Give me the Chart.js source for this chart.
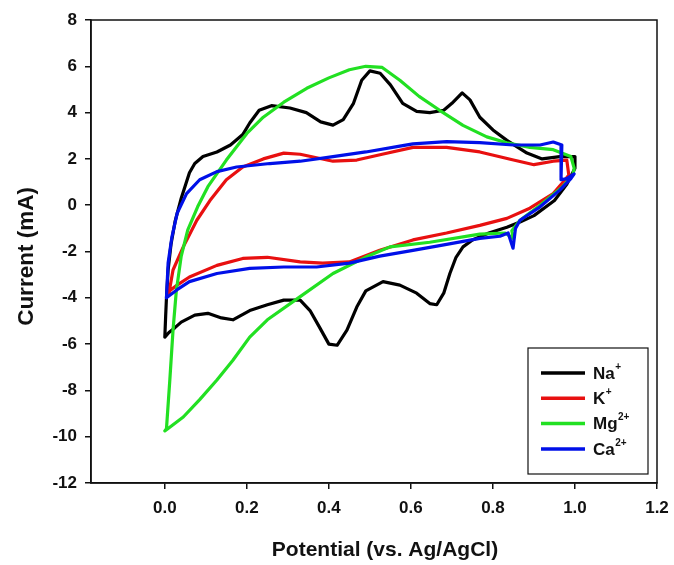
<!DOCTYPE html>
<html>
<head>
<meta charset="utf-8">
<script src="https://cdn.jsdelivr.net/npm/chart.js@4/dist/chart.umd.min.js"></script>
<style>
  html, body { margin: 0; padding: 0; background: #fff; }
  canvas { display: block; }
</style>
</head>
<body>
<canvas id="cv" width="674" height="565"></canvas>
<script>
// CV loops, potential (V vs Ag/AgCl) and current (mA)
const naX = [0.0, 0.002, 0.004, 0.008, 0.015, 0.025, 0.04, 0.06, 0.073, 0.093, 0.127, 0.16, 0.19, 0.207, 0.23, 0.26, 0.305, 0.345, 0.38, 0.41, 0.435, 0.46, 0.48, 0.5, 0.525, 0.55, 0.58, 0.614, 0.646, 0.68, 0.7, 0.725, 0.744, 0.768, 0.8, 0.834, 0.883, 0.92, 0.963, 1.0, 1.0, 0.98, 0.95, 0.9, 0.866, 0.834, 0.79, 0.75, 0.727, 0.71, 0.695, 0.68, 0.663, 0.646, 0.614, 0.573, 0.532, 0.49, 0.468, 0.444, 0.42, 0.4, 0.378, 0.354, 0.33, 0.29, 0.25, 0.207, 0.166, 0.138, 0.105, 0.073, 0.04, 0.024, 0.01, 0.0];
const naY = [-5.7, -4.8, -4.0, -2.8, -1.7, -0.7, 0.3, 1.4, 1.8, 2.1, 2.3, 2.6, 3.05, 3.55, 4.1, 4.3, 4.2, 4.0, 3.6, 3.46, 3.7, 4.4, 5.4, 5.8, 5.7, 5.2, 4.4, 4.05, 4.0, 4.1, 4.4, 4.85, 4.55, 3.8, 3.25, 2.8, 2.25, 2.0, 2.1, 2.1, 1.6, 0.9, 0.2, -0.45, -0.73, -0.95, -1.2, -1.5, -1.8, -2.25, -2.95, -3.8, -4.3, -4.25, -3.8, -3.45, -3.3, -3.7, -4.4, -5.4, -6.05, -6.0, -5.3, -4.55, -4.1, -4.1, -4.3, -4.55, -4.95, -4.87, -4.67, -4.75, -5.05, -5.3, -5.5, -5.7];

const kX = [0.01, 0.02, 0.045, 0.078, 0.11, 0.15, 0.19, 0.24, 0.29, 0.33, 0.37, 0.41, 0.468, 0.53, 0.605, 0.687, 0.768, 0.85, 0.9, 0.947, 0.98, 0.985, 0.976, 0.947, 0.89, 0.834, 0.768, 0.687, 0.605, 0.524, 0.45, 0.385, 0.33, 0.25, 0.19, 0.127, 0.06, 0.03, 0.012, 0.01];
const kY = [-3.8, -2.8, -1.8, -0.65, 0.2, 1.1, 1.65, 2.0, 2.25, 2.2, 2.05, 1.9, 1.95, 2.2, 2.5, 2.5, 2.3, 1.95, 1.75, 1.9, 1.95, 1.3, 1.1, 0.5, -0.13, -0.57, -0.87, -1.2, -1.5, -1.95, -2.45, -2.5, -2.45, -2.25, -2.3, -2.6, -3.1, -3.45, -3.7, -3.8];

const mgX = [0.0, 0.004, 0.012, 0.02, 0.028, 0.04, 0.056, 0.08, 0.105, 0.15, 0.2, 0.24, 0.29, 0.346, 0.4, 0.45, 0.49, 0.53, 0.573, 0.62, 0.67, 0.727, 0.785, 0.834, 0.89, 0.947, 0.99, 0.998, 0.995, 0.97, 0.915, 0.866, 0.846, 0.85, 0.83, 0.768, 0.646, 0.549, 0.49, 0.41, 0.33, 0.25, 0.207, 0.166, 0.127, 0.085, 0.045, 0.004, 0.0];
const mgY = [-9.75, -9.65, -7.6, -5.4, -3.7, -2.2, -1.07, -0.07, 0.8, 1.95, 3.1, 3.8, 4.45, 5.05, 5.5, 5.85, 6.0, 5.95, 5.4, 4.7, 4.1, 3.45, 2.95, 2.7, 2.5, 2.4, 2.1, 1.6, 1.3, 0.8, 0.0, -0.65, -1.1, -1.45, -1.2, -1.25, -1.6, -1.8, -2.24, -2.95, -3.95, -4.95, -5.7, -6.7, -7.55, -8.4, -9.15, -9.7, -9.75];

const caX = [0.004, 0.008, 0.017, 0.03, 0.053, 0.085, 0.127, 0.175, 0.256, 0.33, 0.41, 0.49, 0.573, 0.605, 0.687, 0.768, 0.85, 0.915, 0.947, 0.968, 0.966, 0.98, 0.998, 0.99, 0.963, 0.915, 0.866, 0.855, 0.849, 0.837, 0.817, 0.768, 0.687, 0.605, 0.524, 0.45, 0.37, 0.29, 0.207, 0.127, 0.06, 0.03, 0.004];
const caY = [-4.0, -2.5, -1.4, -0.35, 0.5, 1.1, 1.45, 1.65, 1.8, 1.9, 2.1, 2.3, 2.55, 2.65, 2.75, 2.7, 2.6, 2.6, 2.73, 2.6, 1.1, 1.15, 1.35, 1.15, 0.65, -0.07, -0.65, -1.0, -1.86, -1.2, -1.34, -1.43, -1.69, -1.95, -2.2, -2.5, -2.67, -2.67, -2.73, -2.95, -3.3, -3.65, -4.0];

const xTicks = [0.0, 0.2, 0.4, 0.6, 0.8, 1.0, 1.2];
const yTicks = [-12, -10, -8, -6, -4, -2, 0, 2, 4, 6, 8];

const seriesNames = [['Na', '+'], ['K', '+'], ['Mg', '2+'], ['Ca', '2+']];
const seriesColors = ['#000000', '#e81010', '#22e022', '#0010e8'];
const xTitle = 'Potential (vs. Ag/AgCl)';
const yTitle = 'Current (mA)';

function pts(xs, ys) {
  return xs.map((x, i) => ({ x: x, y: ys[i] }));
}

const FONT = '"Liberation Sans", Arial, sans-serif';

function makeSet(i, xs, ys) {
  return {
    label: seriesNames[i].join(''),
    data: pts(xs, ys),
    showLine: true,
    borderColor: seriesColors[i],
    backgroundColor: seriesColors[i],
    borderWidth: 3.2,
    borderJoinStyle: 'round',
    borderCapStyle: 'round',
    pointRadius: 0,
    tension: 0,
    order: 4 - i // Ca drawn on top
  };
}

// frame, axis titles and the legend box in the lower right
const framePlugin = {
  id: 'frame',
  afterDraw(chart) {
    const ctx = chart.ctx;
    const a = chart.chartArea;
    ctx.save();
    ctx.strokeStyle = '#111';
    ctx.lineWidth = 1.5;
    ctx.strokeRect(a.left, a.top, a.right - a.left, a.bottom - a.top);

    // axis titles (the original sits a bit off centre)
    ctx.fillStyle = '#111';
    ctx.textAlign = 'center';
    ctx.textBaseline = 'alphabetic';
    ctx.font = 'bold 21px ' + FONT;
    ctx.fillText(xTitle, (a.left + a.right) / 2 + 11, 556);
    ctx.save();
    ctx.translate(33, (a.top + a.bottom) / 2 + 5);
    ctx.rotate(-Math.PI / 2);
    ctx.font = 'bold 22.5px ' + FONT;
    ctx.fillText(yTitle, 0, 0);
    ctx.restore();

    const bw = 120, bh = 126;
    const bx = a.right - 9 - bw, by = a.bottom - 9 - bh;
    ctx.fillStyle = '#fff';
    ctx.fillRect(bx, by, bw, bh);
    ctx.strokeStyle = '#111';
    ctx.lineWidth = 1.2;
    ctx.strokeRect(bx, by, bw, bh);

    seriesNames.forEach((nm, i) => {
      const y = by + 25 + i * 25.3;
      ctx.strokeStyle = seriesColors[i];
      ctx.lineWidth = 3.5;
      ctx.beginPath();
      ctx.moveTo(bx + 13, y);
      ctx.lineTo(bx + 57, y);
      ctx.stroke();

      ctx.fillStyle = '#111';
      ctx.textBaseline = 'middle';
      ctx.textAlign = 'left';
      ctx.font = 'bold 17px ' + FONT;
      ctx.fillText(nm[0], bx + 65, y + 1);
      const w = ctx.measureText(nm[0]).width;
      ctx.font = 'bold 10px ' + FONT;
      ctx.fillText(nm[1], bx + 65 + w + 0.5, y - 6);
    });
    ctx.restore();
  }
};

new Chart(document.getElementById('cv'), {
  type: 'scatter',
  data: {
    datasets: [
      makeSet(0, naX, naY),
      makeSet(1, kX, kY),
      makeSet(2, mgX, mgY),
      makeSet(3, caX, caY)
    ]
  },
  options: {
    responsive: false,
    animation: false,
    layout: { padding: { top: 20, right: 17, left: 0, bottom: 0 } },
    plugins: { legend: { display: false }, tooltip: { enabled: false } },
    scales: {
      x: {
        type: 'linear',
        min: -0.18,
        max: 1.2,
        afterBuildTicks: (s) => { s.ticks = xTicks.map(v => ({ value: v })); },
        afterFit: (s) => { s.height = 82; s.paddingLeft = 0; s.paddingRight = 0; },
        grid: { display: true, drawOnChartArea: false, drawTicks: true, tickLength: 6, color: '#111', lineWidth: 1.5 },
        border: { display: true, color: '#111', width: 1.5 },
        ticks: {
          color: '#111',
          padding: 9,
          maxRotation: 0,
          font: { family: FONT, size: 17, weight: 'bold' },
          callback: (v) => v.toFixed(1)
        },
        title: { display: false }
      },
      y: {
        type: 'linear',
        min: -12,
        max: 8,
        afterBuildTicks: (s) => { s.ticks = yTicks.map(v => ({ value: v })); },
        afterFit: (s) => { s.width = 91; s.paddingTop = 0; s.paddingBottom = 0; },
        grid: { display: true, drawOnChartArea: false, drawTicks: true, tickLength: 6, color: '#111', lineWidth: 1.5 },
        border: { display: true, color: '#111', width: 1.5 },
        ticks: {
          color: '#111',
          padding: 8,
          font: { family: FONT, size: 17, weight: 'bold' },
          callback: (v) => String(v)
        },
        title: { display: false }
      }
    }
  },
  plugins: [framePlugin]
});
</script>
</body>
</html>
